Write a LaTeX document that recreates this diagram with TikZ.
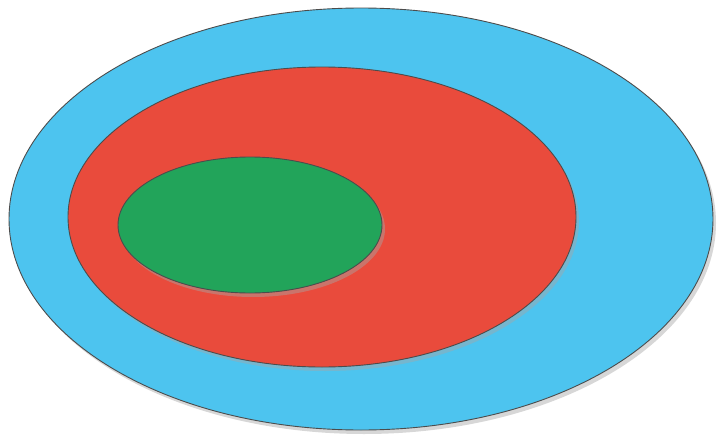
\documentclass[tikz,border=0pt]{standalone}
\usepackage{tikz}
\usepackage{xcolor}
\usetikzlibrary{shadows}

\definecolor{skyblue}{HTML}{4DC4EF}
\definecolor{tomato}{HTML}{E94B3C}
\definecolor{leafgreen}{HTML}{22A45A}

\tikzset{
  setline/.style={draw=black!70, line width=0.9pt},
  setshadow/.style={fill=black!35, opacity=0.45},
}

\begin{document}
\begin{tikzpicture}[x=1pt, y=-1pt]
  \useasboundingbox (0,0) rectangle (718,439);
  % Outer set
  \fill[setshadow] (364,223) ellipse (352 and 211);
  \filldraw[setline, fill=skyblue] (361,219) ellipse (352 and 211);
  % Middle set
  \fill[setshadow] (325,221) ellipse (254 and 150);
  \filldraw[setline, fill=tomato] (322,217) ellipse (254 and 150);
  % Inner set
  \fill[setshadow] (253,229) ellipse (132 and 68);
  \filldraw[setline, fill=leafgreen] (250,225) ellipse (132 and 68);
\end{tikzpicture}
\end{document}
